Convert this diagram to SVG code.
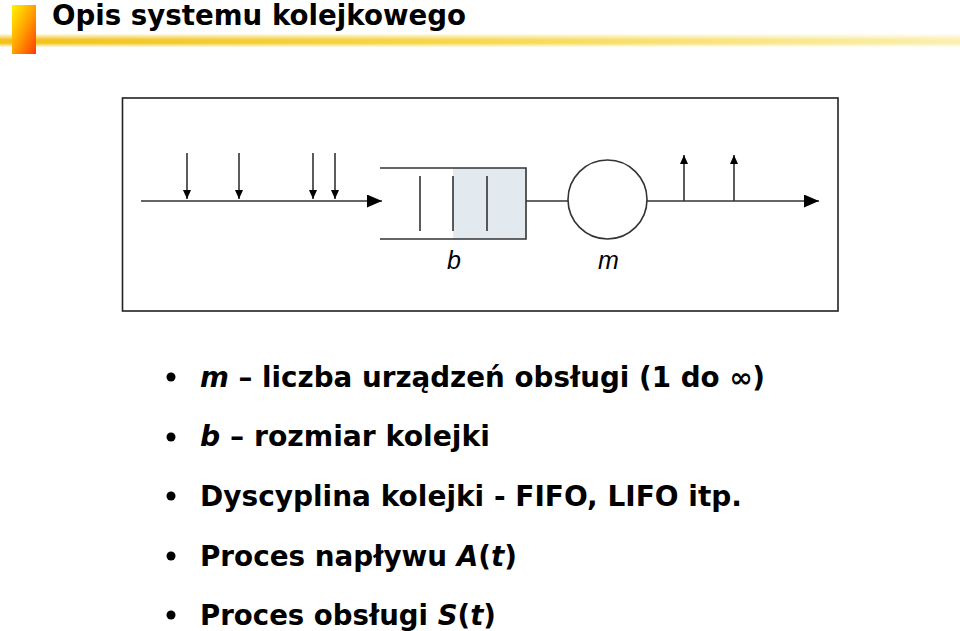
<svg xmlns="http://www.w3.org/2000/svg" width="960" height="631" viewBox="0 0 960 631">
<defs>
<linearGradient id="barG" x1="0" y1="0" x2="1" y2="1">
<stop offset="0" stop-color="#fff400"/>
<stop offset="0.5" stop-color="#ffa000"/>
<stop offset="1" stop-color="#ff3a00"/>
</linearGradient>
<linearGradient id="lineH" x1="0" y1="0" x2="1" y2="0">
<stop offset="0" stop-color="#f2c21a"/>
<stop offset="0.5" stop-color="#f6d850"/>
<stop offset="1" stop-color="#faf0b0"/>
</linearGradient>
<linearGradient id="lineV" x1="0" y1="0" x2="0" y2="1">
<stop offset="0" stop-color="#fff" stop-opacity="0.9"/>
<stop offset="0.45" stop-color="#fff" stop-opacity="0"/>
<stop offset="0.7" stop-color="#fff" stop-opacity="0"/>
<stop offset="1" stop-color="#fff" stop-opacity="0.9"/>
</linearGradient>
<marker id="big" viewBox="0 0 15 13" refX="15" refY="6.5" markerWidth="15" markerHeight="13" markerUnits="userSpaceOnUse" orient="auto">
<path d="M0,0 L15,6.5 L0,13 Z" fill="#000"/>
</marker>
<marker id="small" viewBox="0 0 9 8" refX="9" refY="4" markerWidth="9" markerHeight="8" markerUnits="userSpaceOnUse" orient="auto">
<path d="M0,0 L9,4 L0,8 Z" fill="#000"/>
</marker>
<style>
.ln{stroke:#333;stroke-width:1.6;fill:none}
.lbl{font-family:"Liberation Sans",Arial,sans-serif;font-style:italic;font-size:25px;fill:#000}
.bt{font-family:"DejaVu Sans",Verdana,sans-serif;font-weight:bold;font-size:27.5px;fill:#000}
.it{font-style:italic}
.dot{fill:#000}
</style>
</defs>
<rect width="960" height="631" fill="#fff"/>
<g id="header">
<rect x="0" y="34" width="960" height="13" fill="url(#lineH)"/>
<rect x="0" y="34" width="960" height="13" fill="url(#lineV)"/>
<rect x="12" y="5" width="24" height="49" fill="url(#barG)"/>
<text x="52" y="25" font-family="'DejaVu Sans',Tahoma,sans-serif" font-weight="bold" font-size="28" textLength="414" lengthAdjust="spacingAndGlyphs" fill="#000">Opis systemu kolejkowego</text>
</g>
<g id="frame">
<rect x="122.5" y="98" width="715.5" height="213" fill="none" stroke="#222" stroke-width="1.6"/>
</g>
<g id="queue">
<rect x="453" y="168" width="73" height="71" fill="#e2eaf0"/>
<path class="ln" d="M380,168 H526 V239 H380"/>
<path class="ln" d="M420,176 V231 M453,176 V231 M487,176 V231"/>
<text class="lbl" x="447" y="269">b</text>
</g>
<g id="server">
<circle class="ln" cx="607.5" cy="199.5" r="39.5"/>
<text class="lbl" x="598" y="269">m</text>
</g>
<g id="connectors">
<line class="ln" x1="141" y1="201" x2="382" y2="201" marker-end="url(#big)"/>
<line class="ln" x1="187" y1="153" x2="187" y2="199" marker-end="url(#small)"/>
<line class="ln" x1="239" y1="153" x2="239" y2="199" marker-end="url(#small)"/>
<line class="ln" x1="313" y1="153" x2="313" y2="199" marker-end="url(#small)"/>
<line class="ln" x1="335" y1="153" x2="335" y2="199" marker-end="url(#small)"/>
<line class="ln" x1="526" y1="201" x2="568" y2="201"/>
<line class="ln" x1="647" y1="201" x2="819" y2="201" marker-end="url(#big)"/>
<line class="ln" x1="684" y1="201" x2="684" y2="155" marker-end="url(#small)"/>
<line class="ln" x1="734" y1="201" x2="734" y2="155" marker-end="url(#small)"/>
</g>
<g id="bullets">
<circle class="dot" cx="171" cy="377" r="4.5"/>
<circle class="dot" cx="171" cy="437" r="4.5"/>
<circle class="dot" cx="171" cy="496" r="4.5"/>
<circle class="dot" cx="171" cy="556" r="4.5"/>
<circle class="dot" cx="171" cy="615" r="4.5"/>
<text class="bt" x="200" y="387" textLength="565" lengthAdjust="spacingAndGlyphs"><tspan class="it">m</tspan> – liczba urządzeń obsługi (1 do ∞)</text>
<text class="bt" x="200" y="446" textLength="290" lengthAdjust="spacingAndGlyphs"><tspan class="it">b</tspan> – rozmiar kolejki</text>
<text class="bt" x="200" y="506" textLength="542" lengthAdjust="spacingAndGlyphs">Dyscyplina kolejki - FIFO, LIFO itp.</text>
<text class="bt" x="200" y="566" textLength="317" lengthAdjust="spacingAndGlyphs">Proces napływu <tspan class="it">A</tspan>(<tspan class="it">t</tspan>)</text>
<text class="bt" x="200" y="625" textLength="296" lengthAdjust="spacingAndGlyphs">Proces obsługi <tspan class="it">S</tspan>(<tspan class="it">t</tspan>)</text>
</g>
</svg>
